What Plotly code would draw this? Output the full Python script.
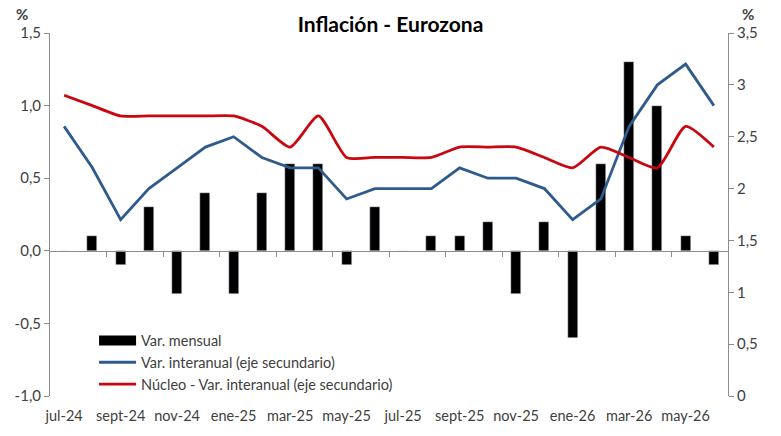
from plotly import graph_objs as go

meses = ["jul-24", "ago-24", "sept-24", "oct-24", "nov-24", "dic-24",
         "ene-25", "feb-25", "mar-25", "abr-25", "may-25", "jun-25",
         "jul-25", "ago-25", "sept-25", "oct-25", "nov-25", "dic-25",
         "ene-26", "feb-26", "mar-26", "abr-26", "may-26", "jun-26"]

var_mensual = [0.0, 0.1, -0.1, 0.3, -0.3, 0.4, -0.3, 0.4, 0.6, 0.6, -0.1, 0.3,
               0.0, 0.1, 0.1, 0.2, -0.3, 0.2, -0.6, 0.6, 1.3, 1.0, 0.1, -0.1]

var_interanual = [2.6, 2.2, 1.7, 2.0, 2.2, 2.4, 2.5, 2.3, 2.2, 2.2, 1.9, 2.0,
                  2.0, 2.0, 2.2, 2.1, 2.1, 2.0, 1.7, 1.9, 2.6, 3.0, 3.2, 2.8]

nucleo = [2.9, 2.8, 2.7, 2.7, 2.7, 2.7, 2.7, 2.6, 2.4, 2.7, 2.3, 2.3,
          2.3, 2.3, 2.4, 2.4, 2.4, 2.3, 2.2, 2.4, 2.3, 2.2, 2.6, 2.4]

left_ticks = [-1.0, -0.5, 0.0, 0.5, 1.0, 1.5]
left_labels = ["-1,0", "-0,5", "0,0", "0,5", "1,0", "1,5"]
right_ticks = [0, 0.5, 1, 1.5, 2, 2.5, 3, 3.5]
right_labels = ["0", "0,5", "1", "1,5", "2", "2,5", "3", "3,5"]

FONT = "Lato"
GRIS = "#8c8c8c"
TXT = "#404040"

fig = go.Figure()

fig.add_trace(go.Bar(x=meses, y=var_mensual, name="Var. mensual",
                     marker_color="black", width=0.36, showlegend=False))
# legend proxy so the bar key is a wide block like in Excel
fig.add_trace(go.Scatter(x=[None], y=[None], mode="lines", name="Var. mensual",
                         line=dict(color="black", width=10)))
fig.add_trace(go.Scatter(x=meses, y=var_interanual, yaxis="y2", mode="lines",
                         name="Var. interanual (eje secundario)",
                         line=dict(color="#2F5B8C", width=2.8)))
fig.add_trace(go.Scatter(x=meses, y=nucleo, yaxis="y2", mode="lines",
                         name="Núcleo - Var. interanual (eje secundario)",
                         line=dict(color="#C8070F", width=2.8, shape="spline", smoothing=0.6)))
# empty trace to bring the zero-line axis (x2) to life
fig.add_trace(go.Scatter(x=[], y=[], xaxis="x2", showlegend=False, hoverinfo="skip"))

# y-domain fraction where left-axis zero sits
zero_pos = (0 - left_ticks[0]) / (left_ticks[-1] - left_ticks[0])

fig.update_layout(
    width=781, height=436,
    margin=dict(l=50, r=53, t=33, b=40),
    paper_bgcolor="white", plot_bgcolor="white",
    font=dict(family=FONT, size=15, color=TXT),
    showlegend=True,
    bargap=0,
    title=dict(text="<b>Inflación - Eurozona</b>", x=0.5, xanchor="center",
               y=1 - 25 / 436, yanchor="middle", font=dict(size=21, color="black", family=FONT)),
    xaxis=dict(type="category", range=[-0.5, len(meses) - 0.5],
               tickmode="array", tickvals=meses[::2], ticktext=meses[::2],
               showline=False, ticks="outside", ticklen=7, tickcolor="rgba(0,0,0,0)",
               showgrid=False, zeroline=False,
               tickfont=dict(size=14.5, color=TXT)),
    xaxis2=dict(overlaying="x", anchor="free", position=zero_pos,
                range=[-0.5, len(meses) - 0.5], tickmode="array",
                tickvals=[i + 1.5 for i in range(0, len(meses) - 2, 2)],
                showticklabels=False, ticks="outside", ticklen=5, tickcolor=GRIS,
                showline=True, linecolor=GRIS, linewidth=1, showgrid=False, zeroline=False),
    yaxis=dict(range=[left_ticks[0], left_ticks[-1]], tickvals=left_ticks,
               ticktext=left_labels, showline=True, linecolor=GRIS, ticks="outside",
               ticklen=5, tickcolor=GRIS, showgrid=False, zeroline=False),
    yaxis2=dict(range=[right_ticks[0], right_ticks[-1]], tickvals=right_ticks,
                ticktext=right_labels, overlaying="y", side="right", showline=True,
                linecolor=GRIS, ticks="outside", ticklen=5, tickcolor=GRIS,
                showgrid=False, zeroline=False),
    legend=dict(x=0.065, y=0.197, xanchor="left", yanchor="top",
                bgcolor="rgba(255,255,255,0)", font=dict(size=14.5, color=TXT),
                tracegroupgap=0, itemwidth=37),
)

fig.add_annotation(text="<b>%</b>", xref="paper", yref="paper", x=0, y=1,
                   xanchor="center", yanchor="bottom", xshift=-28, yshift=8,
                   showarrow=False, font=dict(size=15, color=TXT))
fig.add_annotation(text="<b>%</b>", xref="paper", yref="paper", x=1, y=1,
                   xanchor="center", yanchor="bottom", xshift=20, yshift=8,
                   showarrow=False, font=dict(size=15, color=TXT))

fig.write_html("out.html", config={"displayModeBar": False},
               post_script="document.body.style.margin='0';")
